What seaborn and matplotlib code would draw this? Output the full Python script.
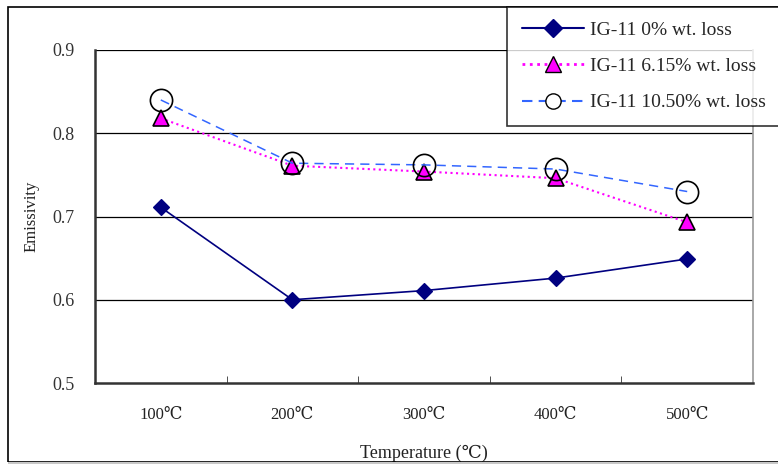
import matplotlib
matplotlib.use("Agg")
import matplotlib.pyplot as plt
import seaborn as sns
from matplotlib.patches import Rectangle
from matplotlib.lines import Line2D

temps = ['100℃', '200℃', '300℃', '400℃', '500℃']
loss0 = [0.711, 0.600, 0.611, 0.626, 0.649]
loss615 = [0.818, 0.761, 0.754, 0.746, 0.693]
loss1050 = [0.840, 0.764, 0.762, 0.757, 0.730]
labels = ['IG-11 0% wt. loss', 'IG-11 6.15% wt. loss', 'IG-11 10.50% wt. loss']

sns.set_style("white")
plt.rcParams['font.family'] = ['Liberation Serif', 'DejaVu Serif', 'DejaVu Sans']

fig = plt.figure(figsize=(7.78, 4.66), dpi=100)
ax = fig.add_axes([95/778, 1-383/466, (753-95)/778, (383-50)/466])

# frame around the whole figure
fig.patches.append(Rectangle((8/778, 4/466), 1.0, 1-11/466, transform=fig.transFigure,
                             fill=False, edgecolor='black', lw=1.2, zorder=0))
fig.patches.append(Rectangle((8/778, 3/466), 1.0, 0.0, transform=fig.transFigure,
                             fill=False, edgecolor='#c8c8c8', lw=1.2, zorder=1))

for yv in [0.6, 0.7, 0.8, 0.9]:
    ax.axhline(yv, color='black', lw=0.9, zorder=0)

sns.pointplot(x=temps, y=loss0, ax=ax, color='#000080', marker='D', markersize=8,
              linestyle='-', linewidth=1.2, markeredgecolor='#000080', zorder=3)
sns.pointplot(x=temps, y=loss615, ax=ax, color='#ff00ff', marker='^', markersize=11,
              linestyle=':', linewidth=1.5, markeredgecolor='black', markeredgewidth=1.2, zorder=4)
sns.pointplot(x=temps, y=loss1050, ax=ax, color='#3366ff', marker='o', markersize=16,
              linestyle=(0, (6, 4)), linewidth=1.1, markerfacecolor='none',
              markeredgecolor='black', markeredgewidth=1.2, zorder=5)

ax.set_xlim(-0.5, 4.5)
ax.set_ylim(0.5, 0.9)
ax.set_yticks([0.5, 0.6, 0.7, 0.8, 0.9])
ax.set_yticklabels(['0.5', '0.6', '0.7', '0.8', '0.9'])
ax.set_xticks(range(5))
ax.set_xticklabels(temps)
ax.set_xticks([0.5, 1.5, 2.5, 3.5], minor=True)
ax.tick_params(axis='x', which='major', length=0, pad=17, labelsize=12, colors='#222222')
ax.tick_params(axis='x', which='minor', length=5, direction='in', bottom=True, color='#333333')
ax.tick_params(axis='y', length=0, pad=15, labelsize=13, colors='#333333')
ax.grid(False)

for s in ['left', 'bottom']:
    ax.spines[s].set_color('#333333')
    ax.spines[s].set_linewidth(1.8)
ax.spines['top'].set_visible(False)
ax.spines['right'].set_color('#999999')
ax.spines['right'].set_linewidth(1.2)

ax.set_xlabel('Temperature (℃)', fontsize=13, labelpad=16, color='#222222')
ax.set_ylabel('Emissivity', fontsize=12, color='#222222')
ax.yaxis.set_label_coords(-0.085, 0.5)

handles = [
    Line2D([], [], color='#000080', marker='D', markersize=9, lw=1.5),
    Line2D([], [], color='#ff00ff', marker='^', markersize=11, ls=':', lw=2,
           markerfacecolor='#ff00ff', markeredgecolor='black'),
    Line2D([], [], color='#3366ff', marker='o', markersize=11, ls=(0, (5, 3)), lw=1.5,
           markerfacecolor='white', markeredgecolor='black'),
]
leg = fig.legend(handles, labels, loc='upper left', bbox_to_anchor=(507/778, 1-7/466),
                 borderaxespad=0, frameon=True, fancybox=False, shadow=False, fontsize=14,
                 handlelength=3.2, labelspacing=0.95, borderpad=0.75, handletextpad=0.3)
leg.get_frame().set_edgecolor('black')
leg.get_frame().set_linewidth(1.2)

fig.savefig('out.png', dpi=100)
